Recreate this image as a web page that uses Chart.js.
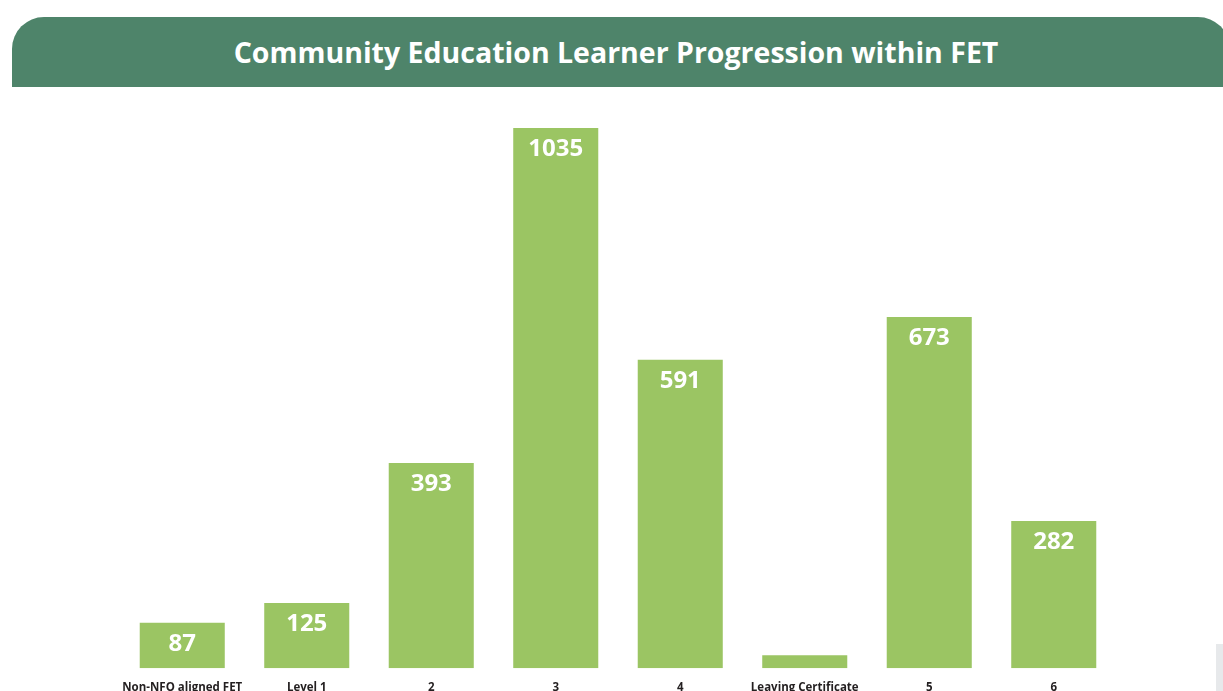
<!DOCTYPE html>
<html>
<head>
<meta charset="utf-8">
<script src="https://cdn.jsdelivr.net/npm/chart.js@4/dist/chart.umd.min.js"></script>
<style>
  html, body { margin: 0; padding: 0; background: #fff; overflow: hidden; }
  body { width: 1223px; height: 691px; position: relative; }
  #banner {
    position: absolute; left: 12px; top: 17px; width: 1218px; height: 70px;
    background: #4e846a; border-radius: 32px 32px 0 0;
    color: #fff; font: 700 28.5px "Open Sans", sans-serif;
    line-height: 70px; text-align: center; box-sizing: border-box; padding-right: 10px;
    z-index: 2;
  }
  #edge {
    position: absolute; left: 1216px; top: 644px; width: 20px; height: 60px;
    background: #e7e9eb; z-index: 2;
  }
  #wrap { position: absolute; left: 0; top: 0; width: 1223px; height: 720px; }
</style>
</head>
<body>
<div id="banner">Community Education Learner Progression within FET</div>
<div id="edge"></div>
<div id="wrap"><canvas id="chart"></canvas></div>
<script>
const categories = ['Non-NFO aligned FET', 'Level 1', '2', '3', '4', 'Leaving Certificate', '5', '6'];
const learners = [87, 125, 393, 1035, 591, 25, 673, 282];

const barLabels = {
    id: 'barLabels',
    afterDatasetsDraw(chart) {
        const ctx = chart.ctx;
        const meta = chart.getDatasetMeta(0);
        ctx.save();
        ctx.fillStyle = '#ffffff';
        ctx.font = '700 24px "Open Sans", sans-serif';
        ctx.textAlign = 'center';
        ctx.textBaseline = 'middle';
        meta.data.forEach((bar, i) => {
            if (bar.base - bar.y < 40) return; // too short for a label
            ctx.fillText(String(learners[i]), bar.x, bar.y + 21);
        });
        ctx.restore();
    }
};

const ctx = document.getElementById('chart').getContext('2d');
new Chart(ctx, {
    type: 'bar',
    data: {
        labels: categories,
        datasets: [{
            label: 'Learners',
            data: learners,
            backgroundColor: '#9bc563',
            categoryPercentage: 1,
            barPercentage: 0.683
        }]
    },
    options: {
        responsive: true,
        maintainAspectRatio: false,
        animation: false,
        layout: { padding: { left: 120, right: 107, top: 94, bottom: 12 } },
        plugins: {
            legend: { display: false },
            tooltip: { enabled: false },
            title: { display: false }
        },
        scales: {
            x: {
                grid: { display: false, drawTicks: false },
                border: { display: false },
                ticks: {
                    padding: 13,
                    color: '#231f20',
                    maxRotation: 0,
                    autoSkip: false,
                    font: { family: '"Open Sans", sans-serif', size: 11.5, weight: '700' }
                }
            },
            y: {
                display: false,
                min: 0,
                max: 1100
            }
        }
    },
    plugins: [barLabels]
});
</script>
</body>
</html>
